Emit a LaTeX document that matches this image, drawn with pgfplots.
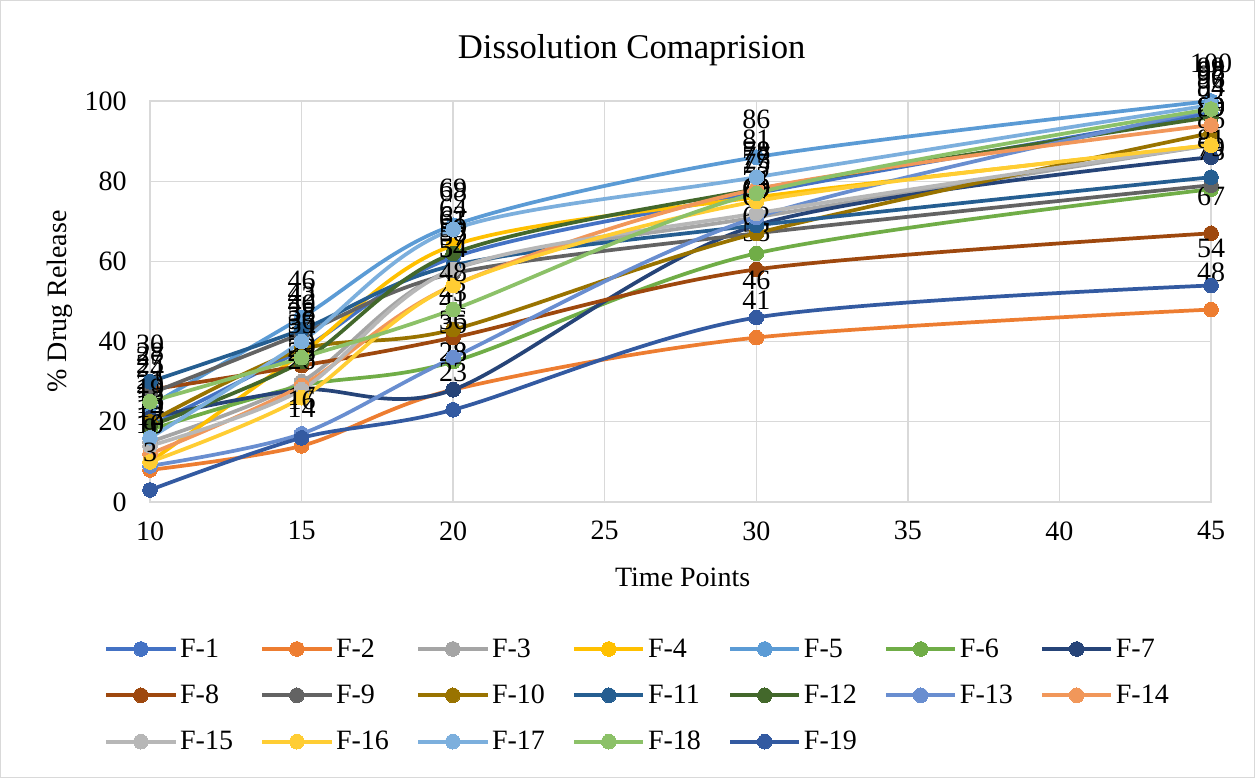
\documentclass[border=0pt]{standalone}
\usepackage{fontspec}
\setmainfont{Liberation Serif}
\usepackage{pgfplots}
\pgfplotsset{compat=1.18}
\definecolor{c1}{HTML}{4472C4}
\definecolor{c2}{HTML}{ED7D31}
\definecolor{c3}{HTML}{A5A5A5}
\definecolor{c4}{HTML}{FFC000}
\definecolor{c5}{HTML}{5B9BD5}
\definecolor{c6}{HTML}{70AD47}
\definecolor{c7}{HTML}{264478}
\definecolor{c8}{HTML}{9E480E}
\definecolor{c9}{HTML}{636363}
\definecolor{c10}{HTML}{997300}
\definecolor{c11}{HTML}{255E91}
\definecolor{c12}{HTML}{43682B}
\definecolor{c13}{HTML}{698ED0}
\definecolor{c14}{HTML}{F1975A}
\definecolor{c15}{HTML}{B7B7B7}
\definecolor{c16}{HTML}{FFCD33}
\definecolor{c17}{HTML}{7CAFDD}
\definecolor{c18}{HTML}{8CC168}
\definecolor{c19}{HTML}{335AA1}
\definecolor{gridc}{HTML}{D9D9D9}
\pgfplotsset{ser/.style={color=#1, mark=*, line width=2.8pt, smooth,
  mark options={solid, fill=#1, draw=#1, line width=0pt}, mark size=5.5pt}}
\begin{document}
\begin{tikzpicture}[x=1pt,y=1pt]
\draw[draw=gridc, line width=0.75pt] (0.375,0.375) rectangle (940.875,583.125);
\begin{axis}[
  at={(112.5pt,207pt)}, anchor=south west,
  scale only axis, width=795.75pt, height=300.75pt,
  xmin=10, xmax=45, ymin=0, ymax=100,
  xtick={10,15,...,45}, ytick={0,20,...,100},
  grid=major, grid style={draw=gridc, line width=1pt},
  axis line style={draw=gridc, line width=1pt},
  major tick length=0pt,
  clip=false,
  tick label style={font=\fontsize{21}{23}\selectfont, text=black},
  /pgf/number format/assume math mode=true,
  yticklabel style={xshift=-14pt},
  xticklabel style={yshift=-11pt},
  title={Dissolution Comaprision},
  title style={at={(axis description cs:0.454,1)}, anchor=center, yshift=32pt, font=\fontsize{26}{28}\selectfont},
  xlabel={Time Points},
  xlabel style={at={(axis description cs:0.502,-0.187)}, anchor=center, font=\fontsize{21}{23}\selectfont},
  ylabel={\% Drug Release},
  ylabel style={at={(axis description cs:-0.0848,0.5)}, anchor=center, font=\fontsize{21}{23}\selectfont},
  nodes near coords,
  every node near coord/.append style={font=\fontsize{21}{21}\selectfont, text=black, anchor=south, inner sep=0pt, yshift=21pt},
  legend columns=7,
  legend cell align=left,
  legend image code/.code={\draw[#1, mark repeat=2, mark phase=2] plot coordinates {(0pt,0pt) (26pt,0pt) (52pt,0pt)};},
  legend style={draw=none, fill=none, at={(axis description cs:-0.047,-0.327)}, anchor=north west,
    font=\fontsize{21}{23}\selectfont, row sep=15.3pt,
    /tikz/every even column/.append style={column sep=18.5pt}},
]
\addplot[ser=c1] coordinates {(10,19) (15,38) (20,61) (30,77) (45,97)};
\addlegendentry{F-1}
\addplot[ser=c2] coordinates {(10,8) (15,14) (20,28) (30,41) (45,48)};
\addlegendentry{F-2}
\addplot[ser=c3] coordinates {(10,15) (15,30) (20,58) (30,71) (45,89)};
\addlegendentry{F-3}
\addplot[ser=c4] coordinates {(10,10) (15,37) (20,64) (30,76) (45,89)};
\addlegendentry{F-4}
\addplot[ser=c5] coordinates {(10,24) (15,46) (20,69) (30,86) (45,100)};
\addlegendentry{F-5}
\addplot[ser=c6] coordinates {(10,18) (15,29) (20,35) (30,62) (45,78)};
\addlegendentry{F-6}
\addplot[ser=c7] coordinates {(10,21) (15,28) (20,28) (30,69) (45,86)};
\addlegendentry{F-7}
\addplot[ser=c8] coordinates {(10,28) (15,34) (20,41) (30,58) (45,67)};
\addlegendentry{F-8}
\addplot[ser=c9] coordinates {(10,27) (15,42) (20,57) (30,67) (45,79)};
\addlegendentry{F-9}
\addplot[ser=c10] coordinates {(10,20) (15,38) (20,43) (30,67) (45,92)};
\addlegendentry{F-10}
\addplot[ser=c11] coordinates {(10,30) (15,43) (20,59) (30,69) (45,81)};
\addlegendentry{F-11}
\addplot[ser=c12] coordinates {(10,19) (15,35) (20,62) (30,78) (45,96)};
\addlegendentry{F-12}
\addplot[ser=c13] coordinates {(10,9) (15,17) (20,36) (30,71) (45,98)};
\addlegendentry{F-13}
\addplot[ser=c14] coordinates {(10,12) (15,29) (20,54) (30,78) (45,94)};
\addlegendentry{F-14}
\addplot[ser=c15] coordinates {(10,14) (15,28) (20,58) (30,72) (45,89)};
\addlegendentry{F-15}
\addplot[ser=c16] coordinates {(10,10) (15,26) (20,54) (30,75) (45,89)};
\addlegendentry{F-16}
\addplot[ser=c17] coordinates {(10,16) (15,40) (20,68) (30,81) (45,99)};
\addlegendentry{F-17}
\addplot[ser=c18] coordinates {(10,25) (15,36) (20,48) (30,77) (45,98)};
\addlegendentry{F-18}
\addplot[ser=c19] coordinates {(10,3) (15,16) (20,23) (30,46) (45,54)};
\addlegendentry{F-19}
\end{axis}
\end{tikzpicture}
\end{document}
